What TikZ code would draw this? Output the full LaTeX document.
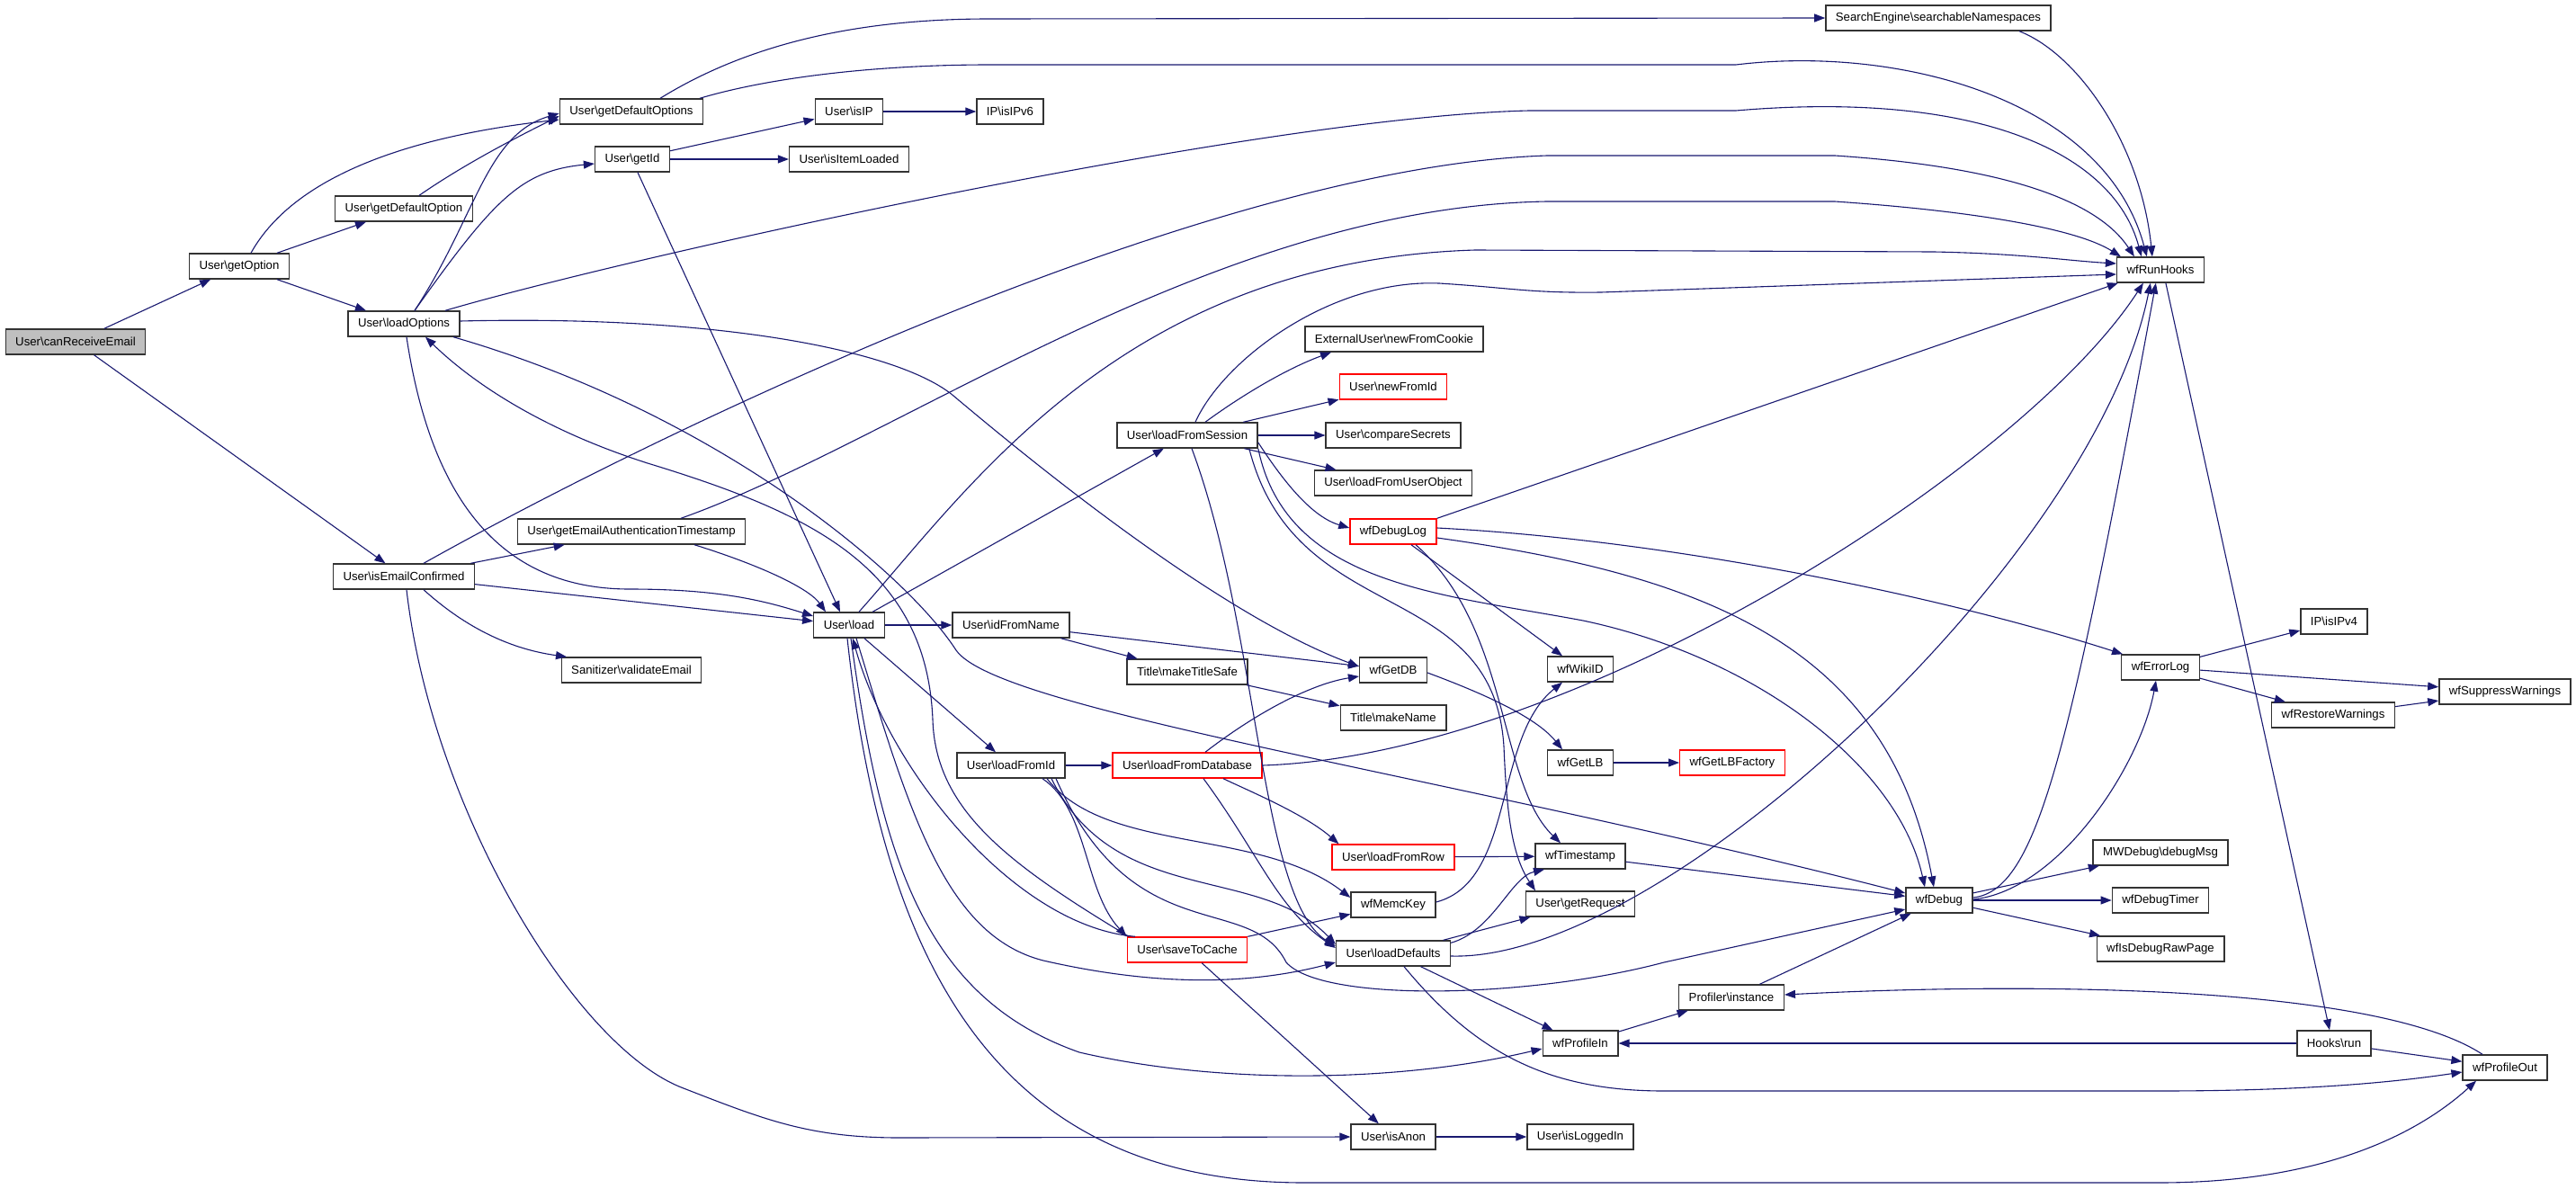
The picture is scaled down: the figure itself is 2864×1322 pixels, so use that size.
\documentclass[tikz,border=0pt]{standalone}
\usepackage{fontspec}
\setmainfont{Liberation Sans}
\usetikzlibrary{arrows.meta}
\definecolor{archi}{HTML}{191970}
\newcommand{\bsl}{\textbackslash}

\begin{document}
\begin{tikzpicture}[x=1pt, y=-1pt,
  every node/.style={rectangle, draw=black!80, fill=white, line width=1.4pt, minimum height=28pt, inner xsep=11pt, inner ysep=0pt, font=\fontsize{13.2}{15}\selectfont},
  rosso/.style={draw=red},
  radice/.style={fill=black!25},
  freccia/.style={draw=archi, line width=1.1pt, -{Triangle[length=12pt,width=9pt]}}]

\useasboundingbox (0,0) rectangle (2864,1322);

% Nodi
\node[radice] (canReceive) at (84,380) {User\bsl{}canReceiveEmail};
\node (getOption) at (266,296) {User\bsl{}getOption};
\node (getDefaultOption) at (449,232) {User\bsl{}getDefaultOption};
\node (loadOptions) at (449,360) {User\bsl{}loadOptions};
\node (isEmailConfirmed) at (449,641) {User\bsl{}isEmailConfirmed};
\node (getDefaultOptions) at (702,124) {User\bsl{}getDefaultOptions};
\node (getId) at (703,177) {User\bsl{}getId};
\node (getEmailAuth) at (702,591) {User\bsl{}getEmailAuthenticationTimestamp};
\node (validateEmail) at (702,745) {Sanitizer\bsl{}validateEmail};
\node (isIP) at (944,124) {User\bsl{}isIP};
\node (isItemLoaded) at (944,177) {User\bsl{}isItemLoaded};
\node (load) at (944,695) {User\bsl{}load};
\node (isIPv6) at (1123,124) {IP\bsl{}isIPv6};
\node (idFromName) at (1124,695) {User\bsl{}idFromName};
\node (loadFromId) at (1124,851) {User\bsl{}loadFromId};
\node (loadFromSession) at (1320,484) {User\bsl{}loadFromSession};
\node (makeTitleSafe) at (1320,747) {Title\bsl{}makeTitleSafe};
\node[rosso] (loadFromDatabase) at (1320,851) {User\bsl{}loadFromDatabase};
\node[rosso] (saveToCache) at (1320,1056) {User\bsl{}saveToCache};
\node (newFromCookie) at (1550,377) {ExternalUser\bsl{}newFromCookie};
\node[rosso] (newFromId) at (1549,430) {User\bsl{}newFromId};
\node (compareSecrets) at (1549,484) {User\bsl{}compareSecrets};
\node (loadFromUserObject) at (1549,537) {User\bsl{}loadFromUserObject};
\node[rosso] (wfDebugLog) at (1549,591) {wfDebugLog};
\node (wfGetDB) at (1549,745) {wfGetDB};
\node (makeName) at (1549,798) {Title\bsl{}makeName};
\node[rosso] (loadFromRow) at (1549,953) {User\bsl{}loadFromRow};
\node (wfMemcKey) at (1549,1006) {wfMemcKey};
\node (loadDefaults) at (1549,1060) {User\bsl{}loadDefaults};
\node (isAnon) at (1549,1264) {User\bsl{}isAnon};
\node (wfWikiID) at (1757,744) {wfWikiID};
\node (wfGetLB) at (1757,848) {wfGetLB};
\node (wfTimestamp) at (1757,952) {wfTimestamp};
\node (getRequest) at (1757,1005) {User\bsl{}getRequest};
\node (wfProfileIn) at (1757,1160) {wfProfileIn};
\node (isLoggedIn) at (1757,1264) {User\bsl{}isLoggedIn};
\node[rosso] (wfGetLBFactory) at (1926,848) {wfGetLBFactory};
\node (profInstance) at (1925,1109) {Profiler\bsl{}instance};
\node (searchNS) at (2155,20) {SearchEngine\bsl{}searchableNamespaces};
\node (wfDebug) at (2156,1001) {wfDebug};
\node (wfRunHooks) at (2402,300) {wfRunHooks};
\node (wfErrorLog) at (2402,742) {wfErrorLog};
\node (debugMsg) at (2402,948) {MWDebug\bsl{}debugMsg};
\node (wfDebugTimer) at (2402,1001) {wfDebugTimer};
\node (wfIsDebugRawPage) at (2402,1055) {wfIsDebugRawPage};
\node (isIPv4) at (2595,691) {IP\bsl{}isIPv4};
\node (wfRestoreWarnings) at (2594,795) {wfRestoreWarnings};
\node (hooksRun) at (2595,1160) {Hooks\bsl{}run};
\node (wfSuppressWarnings) at (2785,769) {wfSuppressWarnings};
\node (wfProfileOut) at (2785,1187) {wfProfileOut};

% Archi
\draw[freccia] (canReceive) -- (getOption);
\draw[freccia] (canReceive) -- (isEmailConfirmed);
\draw[freccia] (getOption) -- (getDefaultOption);
\draw[freccia] (getOption) -- (loadOptions);
\draw[freccia] ([xshift=13]getOption.north) .. controls (330,190) and (470,150) .. ([yshift=-9]getDefaultOptions.west);
\draw[freccia] ([xshift=17]getDefaultOption.north) .. controls (520,180) and (580,150) .. ([yshift=-5]getDefaultOptions.west);
\draw[freccia] ([xshift=12]loadOptions.north) .. controls (530,240) and (540,150) .. ([yshift=-2]getDefaultOptions.west);
\draw[freccia] ([xshift=12]loadOptions.north) .. controls (550,220) and (580,190) .. ([yshift=-5]getId.west);
\draw[freccia] ([xshift=32]getDefaultOptions.north) .. controls (830,50) and (950,21) .. (1100,21) -- (searchNS.west);
\draw[freccia] ([xshift=76]getDefaultOptions.north) .. controls (860,85) and (980,72) .. (1100,72) -- (1930,72) .. controls (2110,50) and (2340,110) .. ([xshift=34]wfRunHooks.north west);
\draw[freccia] ([xshift=90]searchNS.south) .. controls (2310,60) and (2380,160) .. ([xshift=40]wfRunHooks.north west);
\draw[freccia] ([xshift=46]loadOptions.north) .. controls (700,285) and (1400,130) .. (1700,123) -- (1930,123) .. controls (2200,100) and (2350,170) .. ([xshift=28]wfRunHooks.north west);
\draw[freccia] ([xshift=22]isEmailConfirmed.north) .. controls (750,470) and (1350,185) .. (1720,173) -- (2040,173) .. controls (2220,185) and (2330,220) .. ([xshift=20]wfRunHooks.north west);
\draw[freccia] ([xshift=55]getEmailAuth.north) .. controls (1000,490) and (1350,230) .. (1720,224) -- (2040,224) .. controls (2200,235) and (2310,255) .. ([xshift=5]wfRunHooks.north west);
\draw[freccia] ([xshift=11]load.north) .. controls (1080,540) and (1250,290) .. (1640,278) -- (2150,280) .. controls (2250,282) and (2300,290) .. ([yshift=7]wfRunHooks.west);
\draw[freccia] ([xshift=9]loadFromSession.north) .. controls (1360,400) and (1480,310) .. (1600,315) .. controls (1680,320) and (1700,326) .. (1780,325) -- ([yshift=-5]wfRunHooks.west);
\draw[freccia] (wfDebugLog.north east) -- ([xshift=2]wfRunHooks.south west);
\draw[freccia] (loadFromDatabase.east) .. controls (1750,840) and (2250,520) .. ([xshift=30]wfRunHooks.south west);
\draw[freccia] ([yshift=-3]loadDefaults.east) .. controls (1850,1070) and (2330,620) .. ([xshift=38]wfRunHooks.south west);
\draw[freccia] ([yshift=3]wfDebug.east) .. controls (2265,990) and (2300,840) .. ([xshift=44]wfRunHooks.south west);
\draw[freccia] ([xshift=55]wfRunHooks.south west) -- ([xshift=-5]hooksRun.north);

\draw[freccia] ([xshift=6]getId.south) -- ([xshift=-10]load.north);
\draw[freccia] (getId) -- (isIP);
\draw[freccia] (getId) -- (isItemLoaded);
\draw[freccia] (isIP) -- (isIPv6);

\draw[freccia] (isEmailConfirmed) -- (getEmailAuth);
\draw[freccia] (isEmailConfirmed) -- (load);
\draw[freccia] ([xshift=22]isEmailConfirmed.south) .. controls (520,700) and (570,722) .. ([xshift=-72]validateEmail.north);
\draw[freccia] ([xshift=3]isEmailConfirmed.south) .. controls (480,900) and (640,1165) .. (760,1210) .. controls (850,1245) and (900,1265) .. (1000,1265) -- (isAnon.west);
\draw[freccia] ([xshift=70]getEmailAuth.south) .. controls (850,630) and (900,655) .. ([xshift=-26]load.north);

\draw[freccia] ([xshift=3]loadOptions.south) .. controls (480,560) and (560,655) .. (700,655) .. controls (800,655) and (850,668) .. ([yshift=10]load.west);
\draw[freccia] ([yshift=3]loadOptions.east) .. controls (800,350) and (1000,390) .. (1060,440) .. controls (1250,600) and (1400,700) .. ([yshift=4]wfGetDB.west);
\draw[freccia] ([xshift=55]loadOptions.south) .. controls (800,460) and (1010,640) .. (1063,723) .. controls (1110,790) and (1600,860) .. ([yshift=8]wfDebug.west);
\draw[freccia] ([xshift=-65]saveToCache.north) .. controls (1120,960) and (1040,900) .. (1037,800) .. controls (1030,630) and (900,570) .. (720,515) .. controls (610,480) and (530,430) .. ([xshift=24]loadOptions.south);
\draw[freccia] ([xshift=-58]saveToCache.north) .. controls (1130,1030) and (990,860) .. ([xshift=4]load.south);
\draw[freccia] (saveToCache) -- (wfMemcKey);
\draw[freccia] (saveToCache) -- (isAnon);

\draw[freccia] (load) -- (idFromName);
\draw[freccia] (load) -- (loadFromSession);
\draw[freccia] (load) -- (loadFromId);
\draw[freccia] ([xshift=8]load.south) .. controls (1010,900) and (1050,1040) .. (1160,1068) .. controls (1300,1100) and (1400,1092) .. ([yshift=-10]loadDefaults.west);
\draw[freccia] ([xshift=2]load.south) .. controls (980,960) and (1030,1110) .. (1200,1170) .. controls (1350,1205) and (1550,1205) .. ([yshift=-6]wfProfileIn.west);
\draw[freccia] ([xshift=-2]load.south) .. controls (980,1060) and (1100,1315) .. (1450,1315) -- (2400,1315) .. controls (2600,1315) and (2700,1250) .. ([xshift=-32]wfProfileOut.south);

\draw[freccia] (idFromName) -- (wfGetDB);
\draw[freccia] (idFromName) -- (makeTitleSafe);
\draw[freccia] (makeTitleSafe) -- (makeName);
\draw[freccia] (loadFromId) -- (loadFromDatabase);
\draw[freccia] ([xshift=35]loadFromId.south) .. controls (1210,900) and (1205,990) .. (saveToCache.north west);
\draw[freccia] ([xshift=40]loadFromId.south) .. controls (1230,950) and (1400,920) .. ([yshift=8]wfMemcKey.west);
\draw[freccia] ([xshift=45]loadFromId.south) .. controls (1240,1010) and (1400,960) .. ([yshift=10]loadDefaults.west);
\draw[freccia] ([xshift=50]loadFromId.south) .. controls (1260,1060) and (1390,990) .. (1430,1070) .. controls (1470,1115) and (1700,1110) .. (1850,1070) -- ([yshift=-10]wfDebug.west);

\draw[freccia] ([xshift=20]loadFromDatabase.north) .. controls (1400,790) and (1460,760) .. ([yshift=-7]wfGetDB.west);
\draw[freccia] ([xshift=40]loadFromDatabase.south) .. controls (1390,880) and (1450,905) .. ([xshift=8]loadFromRow.north west);
\draw[freccia] ([xshift=18]loadFromDatabase.south) .. controls (1400,950) and (1420,1010) .. ([yshift=6]loadDefaults.west);

\draw[freccia] ([xshift=20]loadFromSession.north) .. controls (1380,440) and (1430,410) .. ([xshift=-70]newFromCookie.south);
\draw[freccia] (loadFromSession) -- (newFromId);
\draw[freccia] (loadFromSession) -- (compareSecrets);
\draw[freccia] (loadFromSession) -- (loadFromUserObject);
\draw[freccia] ([yshift=-8]loadFromSession.east) .. controls (1430,540) and (1460,575) .. ([yshift=4]wfDebugLog.west);
\draw[freccia] (loadFromSession.south east) .. controls (1430,650) and (1600,660) .. (1760,690) .. controls (1950,730) and (2110,850) .. ([xshift=-16]wfDebug.north);
\draw[freccia] ([xshift=-10]loadFromSession.south east) .. controls (1440,700) and (1660,640) .. (1672,830) .. controls (1675,900) and (1680,950) .. ([xshift=-50]getRequest.north);
\draw[freccia] ([xshift=5]loadFromSession.south) .. controls (1400,700) and (1400,1000) .. ([yshift=8]loadDefaults.west);

\draw[freccia] (wfDebugLog) -- (wfWikiID);
\draw[freccia] ([xshift=25]wfDebugLog.south) .. controls (1680,700) and (1665,870) .. ([xshift=-22]wfTimestamp.north);
\draw[freccia] ([yshift=4]wfDebugLog.east) .. controls (1850,600) and (2150,660) .. ([xshift=2]wfErrorLog.north west);
\draw[freccia] ([yshift=-7]wfDebugLog.east) .. controls (1900,640) and (2100,720) .. ([xshift=-6]wfDebug.north);

\draw[freccia] ([yshift=3]wfMemcKey.east) .. controls (1685,980) and (1660,820) .. ([xshift=-20]wfWikiID.south);
\draw[freccia] ([yshift=-3]wfGetDB.east) .. controls (1660,775) and (1710,800) .. ([xshift=-20]wfGetLB.north);
\draw[freccia] (wfGetLB) -- (wfGetLBFactory);
\draw[freccia] (loadFromRow) -- (wfTimestamp);
\draw[freccia] (wfTimestamp) -- (wfDebug);
\draw[freccia] (loadDefaults) -- (getRequest);
\draw[freccia] ([yshift=-3]loadDefaults.north east) .. controls (1660,1035) and (1680,975) .. ([xshift=-40]wfTimestamp.south);
\draw[freccia] (loadDefaults) -- (wfProfileIn);
\draw[freccia] ([xshift=12]loadDefaults.south) .. controls (1640,1170) and (1720,1213) .. (1850,1213) -- (2400,1213) .. controls (2550,1213) and (2650,1205) .. ([yshift=-5]wfProfileOut.west);
\draw[freccia] (wfProfileIn) -- (profInstance);
\draw[freccia] ([xshift=-25]wfProfileOut.north) .. controls (2650,1100) and (2300,1090) .. ([yshift=3]profInstance.east);
\draw[freccia] (profInstance) -- (wfDebug);
\draw[freccia] (hooksRun) -- (wfProfileIn);
\draw[freccia] (hooksRun) -- (wfProfileOut);
\draw[freccia] (wfDebug) -- (debugMsg);
\draw[freccia] (wfDebug) -- (wfDebugTimer);
\draw[freccia] (wfDebug) -- (wfIsDebugRawPage);
\draw[freccia] ([yshift=1]wfDebug.east) .. controls (2290,990) and (2380,850) .. ([xshift=-5]wfErrorLog.south);
\draw[freccia] (wfErrorLog) -- (isIPv4);
\draw[freccia] (wfErrorLog) -- (wfSuppressWarnings);
\draw[freccia] (wfErrorLog) -- (wfRestoreWarnings);
\draw[freccia] (wfRestoreWarnings) -- (wfSuppressWarnings);
\draw[freccia] (isAnon) -- (isLoggedIn);

\end{tikzpicture}
\end{document}
